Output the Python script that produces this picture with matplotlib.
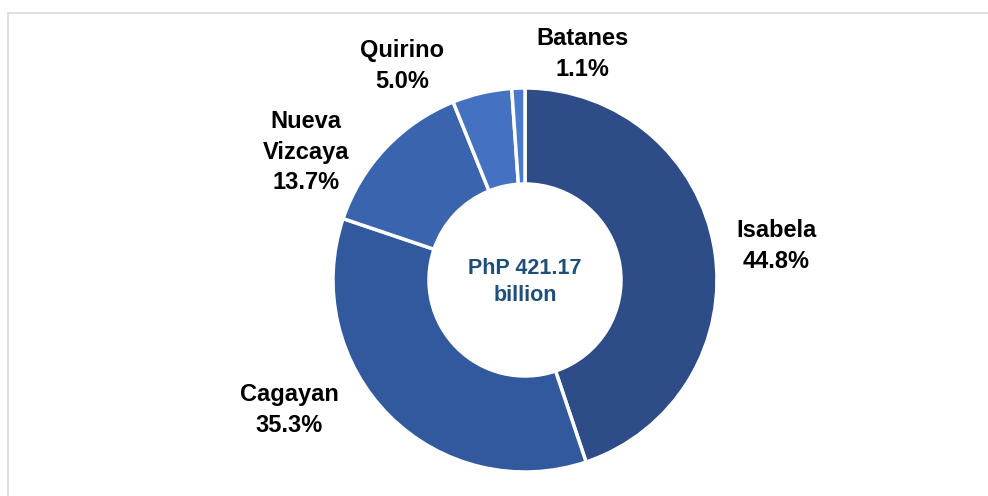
import matplotlib.pyplot as plt
from matplotlib.patches import Rectangle

provinces = ["Isabela", "Cagayan", "Nueva\nVizcaya", "Quirino", "Batanes"]
shares = [44.8, 35.3, 13.7, 5.0, 1.1]
total_label = "PhP 421.17\nbillion"

colors = ["#2E4D88", "#32599D", "#3A64AD", "#4471C1", "#4A7ACC"]
# label centres in pixels from the top-left corner of the image
label_pos = [(776, 246), (289, 410), (306, 152), (402, 66), (582, 54)]

W, H = 988, 496
cx, cy, r = 525, 280, 192

fig = plt.figure(figsize=(W / 100, H / 100), dpi=100)
ax = fig.add_axes([0, 0, 1, 1])
ax.set_xlim(0, W)
ax.set_ylim(0, H)
ax.set_aspect("equal")
ax.axis("off")

ax.pie(
    shares,
    colors=colors,
    startangle=90,
    counterclock=False,
    center=(cx, H - cy),
    radius=r,
    wedgeprops=dict(width=r * 0.5, edgecolor="white", linewidth=2.5),
)
ax.set_xlim(0, W)
ax.set_ylim(0, H)

for name, val, (x, y) in zip(provinces, shares, label_pos):
    ax.text(x, H - y, f"{name}\n{val:.1f}%", ha="center", va="center",
            fontsize=17, fontweight="bold", family="Liberation Sans",
            linespacing=1.4, color="black")

ax.text(cx, H - 282, total_label, ha="center", va="center", fontsize=15.5,
        fontweight="bold", family="Liberation Sans", color="#1F4E79",
        linespacing=1.35)

# light frame around the chart area
ax.add_patch(Rectangle((8, -20), W + 20, H - 13 + 20, fill=False,
                       edgecolor="#D9D9D9", linewidth=1.2, clip_on=False))

fig.savefig("out.png", dpi=100)
